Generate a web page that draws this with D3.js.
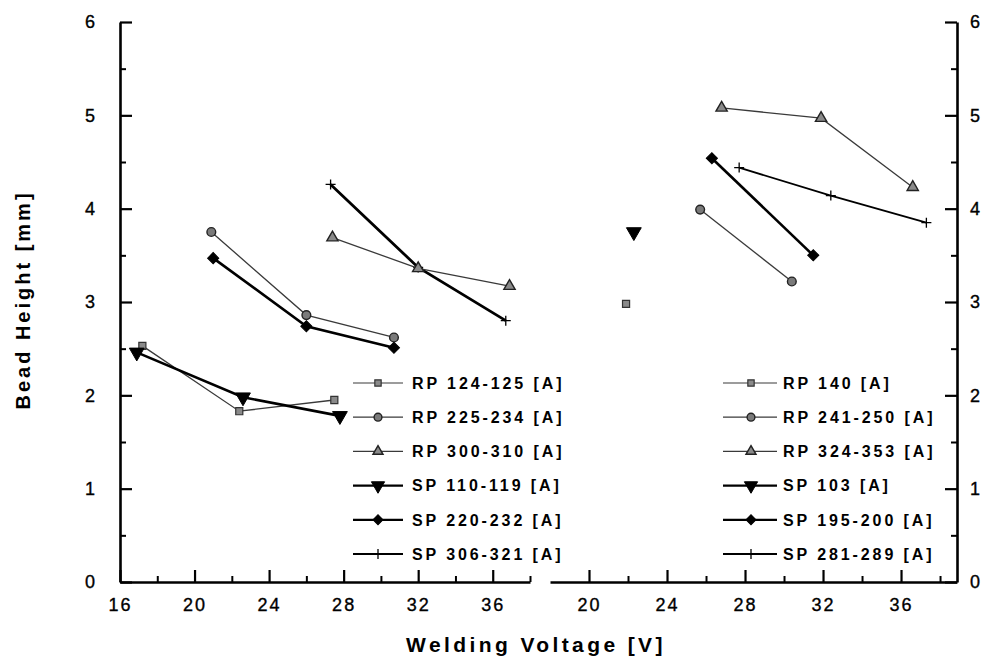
<!DOCTYPE html>
<html><head><meta charset="utf-8">
<script src="https://cdn.jsdelivr.net/npm/d3@7"></script>
<style>
body{margin:0;background:#fff;}
text{font-family:"Liberation Sans",Arial,sans-serif;fill:#000;}
</style></head>
<body><svg id="c" width="988" height="664"></svg>
<script>
// ---- data ----
const yTicks = [0,1,2,3,4,5,6];
const yMinor = [0.5,1.5,2.5,3.5,4.5,5.5];
const xTicksLeft = [16,20,24,28,32,36];
const xMinorLeft = [18,22,26,30,34,38];
const xTicksRight = [20,24,28,32,36];
const xMinorRight = [22,26,30,34,38];

// left panel series
const rp124x = [17.2, 22.4, 27.5], rp124y = [2.53, 1.83, 1.95];
const rp225x = [20.9, 26.0, 30.7], rp225y = [3.75, 2.86, 2.62];
const rp300x = [27.4, 32.0, 36.9], rp300y = [3.69, 3.36, 3.17];
const sp110x = [16.9, 22.6, 27.8], sp110y = [2.46, 1.98, 1.78];
const sp220x = [21.0, 26.0, 30.7], sp220y = [3.47, 2.74, 2.51];
const sp306x = [27.3, 32.0, 36.7], sp306y = [4.26, 3.37, 2.80];
// right panel series
const rp140x = [21.9], rp140y = [2.98];
const rp241x = [25.7, 30.4], rp241y = [3.99, 3.22];
const rp324x = [26.8, 31.9, 36.6], rp324y = [5.08, 4.97, 4.23];
const sp103x = [22.3], sp103y = [3.75];
const sp195x = [26.3, 31.5], sp195y = [4.54, 3.50];
const sp281x = [27.7, 32.4, 37.3], sp281y = [4.44, 4.14, 3.85];

const leftNames = ["RP 124-125 [A]","RP 225-234 [A]","RP 300-310 [A]","SP 110-119 [A]","SP 220-232 [A]","SP 306-321 [A]"];
const rightNames = ["RP 140 [A]","RP 241-250 [A]","RP 324-353 [A]","SP 103 [A]","SP 195-200 [A]","SP 281-289 [A]"];
const markerKinds = ["square","circle","triangle","down","diamond","plus"];

// ---- scales ----
const svg = d3.select("#c");
const y = d3.scaleLinear().domain([0,6]).range([582,22]);
const xL = d3.scaleLinear().domain([16,38]).range([120,530]);
const xR = d3.scaleLinear().domain([18,38.87]).range([550,957]);

function styleAxis(g, size){
  g.selectAll("path.domain").attr("stroke","#000").attr("stroke-width",2.6);
  g.selectAll(".tick line").attr("stroke","#000").attr("stroke-width",2.2);
  g.selectAll("text").style("font-family",'"Liberation Sans",Arial,sans-serif')
    .style("font-size",size+"px").style("letter-spacing","2px").attr("fill","#000")
    .attr("stroke","#000").attr("stroke-width",0.35);
}

// left y axis
const gyl = svg.append("g").attr("transform","translate(120,0)")
  .call(d3.axisLeft(y).tickValues(yTicks).tickFormat(d3.format("d")).tickSize(-12).tickSizeOuter(0).tickPadding(23));
styleAxis(gyl,18);
svg.append("g").attr("transform","translate(120,0)")
  .call(d3.axisLeft(y).tickValues(yMinor).tickFormat("").tickSize(-6).tickSizeOuter(0))
  .call(g=>{g.select(".domain").remove(); g.selectAll("line").attr("stroke","#000").attr("stroke-width",2);});

// right y axis
const gyr = svg.append("g").attr("transform","translate(957,0)")
  .call(d3.axisRight(y).tickValues(yTicks).tickFormat(d3.format("d")).tickSize(-12).tickSizeOuter(0).tickPadding(13));
styleAxis(gyr,18);
svg.append("g").attr("transform","translate(957,0)")
  .call(d3.axisRight(y).tickValues(yMinor).tickFormat("").tickSize(-6).tickSizeOuter(0))
  .call(g=>{g.select(".domain").remove(); g.selectAll("line").attr("stroke","#000").attr("stroke-width",2);});

// bottom axes
const gxl = svg.append("g").attr("transform","translate(0,582)")
  .call(d3.axisBottom(xL).tickValues(xTicksLeft).tickFormat(d3.format("d")).tickSize(-12).tickSizeOuter(0).tickPadding(16));
styleAxis(gxl,18);
svg.append("g").attr("transform","translate(0,582)")
  .call(d3.axisBottom(xL).tickValues(xMinorLeft).tickFormat("").tickSize(-6).tickSizeOuter(0))
  .call(g=>{g.select(".domain").remove(); g.selectAll("line").attr("stroke","#000").attr("stroke-width",2);});

const gxr = svg.append("g").attr("transform","translate(0,582)")
  .call(d3.axisBottom(xR).tickValues(xTicksRight).tickFormat(d3.format("d")).tickSize(-12).tickSizeOuter(0).tickPadding(16));
styleAxis(gxr,18);
svg.append("g").attr("transform","translate(0,582)")
  .call(d3.axisBottom(xR).tickValues(xMinorRight).tickFormat("").tickSize(-6).tickSizeOuter(0))
  .call(g=>{g.select(".domain").remove(); g.selectAll("line").attr("stroke","#000").attr("stroke-width",2);});

// axis titles
svg.append("text").attr("x",536).attr("y",652).attr("text-anchor","middle")
  .style("font-size","21px").style("font-weight","bold").style("letter-spacing","3.4px")
  .text("Welding Voltage [V]");
svg.append("text").attr("transform","translate(30,300) rotate(-90)").attr("text-anchor","middle")
  .style("font-size","20px").style("font-weight","bold").style("letter-spacing","3px")
  .text("Bead Height [mm]");

// ---- markers ----
function drawMarker(g, kind, cx, cy, s){
  s = s || 1;
  const t = `translate(${cx},${cy})`;
  if(kind==="square"){
    g.append("path").attr("transform",t).attr("d",d3.symbol(d3.symbolSquare,50*s)())
      .attr("fill","#8a8a8a").attr("stroke","#333").attr("stroke-width",1.2);
  } else if(kind==="circle"){
    g.append("path").attr("transform",t).attr("d",d3.symbol(d3.symbolCircle,60*s)())
      .attr("fill","#7a7a7a").attr("stroke","#222").attr("stroke-width",1.4);
  } else if(kind==="triangle"){
    g.append("path").attr("transform",t).attr("d",d3.symbol(d3.symbolTriangle,55*s)())
      .attr("fill","#8a8a8a").attr("stroke","#222").attr("stroke-width",1.4);
  } else if(kind==="down"){
    g.append("path").attr("transform",t+" rotate(180)").attr("d",d3.symbol(d3.symbolTriangle,95*s)())
      .attr("fill","#000").attr("stroke","#000").attr("stroke-width",1);
  } else if(kind==="diamond"){
    g.append("path").attr("transform",t+" rotate(45)").attr("d",d3.symbol(d3.symbolSquare,62*s)())
      .attr("fill","#000").attr("stroke","#000").attr("stroke-width",1);
  } else if(kind==="plus"){
    g.append("path").attr("transform",t).attr("d","M-5,0H5M0,-5V5")
      .attr("fill","none").attr("stroke","#000").attr("stroke-width",1.3);
  }
}

const lineStyle = {
  square:{w:1.3,c:"#3a3a3a"}, circle:{w:1.3,c:"#3a3a3a"}, triangle:{w:1.3,c:"#3a3a3a"},
  down:{w:2.6,c:"#000"}, diamond:{w:2.6,c:"#000"}, plus:{w:2.4,c:"#000"}
};

function drawSeries(xs, ys, xScale, kind, lw){
  const pts = xs.map((v,i)=>[xScale(v), y(ys[i])]);
  const g = svg.append("g");
  if(pts.length>1){
    g.append("path").attr("d",d3.line()(pts)).attr("fill","none")
      .attr("stroke",lineStyle[kind].c).attr("stroke-width",lw||lineStyle[kind].w);
  }
  pts.forEach(p=>drawMarker(g,kind,p[0],p[1]));
}

// left panel
drawSeries(rp124x, rp124y, xL, "square");
drawSeries(sp110x, sp110y, xL, "down");
drawSeries(rp225x, rp225y, xL, "circle");
drawSeries(sp220x, sp220y, xL, "diamond");
drawSeries(sp306x, sp306y, xL, "plus", 2.8);
drawSeries(rp300x, rp300y, xL, "triangle");
// right panel
drawSeries(rp140x, rp140y, xR, "square");
drawSeries(sp103x, sp103y, xR, "down");
drawSeries(rp241x, rp241y, xR, "circle");
drawSeries(sp195x, sp195y, xR, "diamond");
drawSeries(rp324x, rp324y, xR, "triangle");
drawSeries(sp281x, sp281y, xR, "plus", 1.8);

// ---- legends ----
function legend(names, x0, x1, mx, tx, lwLast){
  names.forEach((n,i)=>{
    const k = markerKinds[i];
    const yy = 383 + i*34.2;
    const g = svg.append("g");
    const w = (i===5 && lwLast) ? lwLast : (lineStyle[k].w>2 ? 2.2 : 1.2);
    g.append("line").attr("x1",x0).attr("x2",x1).attr("y1",yy).attr("y2",yy)
      .attr("stroke",lineStyle[k].c).attr("stroke-width",w);
    drawMarker(g,k,mx,yy,0.8);
    g.append("text").attr("x",tx).attr("y",yy).attr("dy","0.36em")
      .style("font-size","16px").style("font-weight","bold").style("letter-spacing","2.9px")
      .text(n);
  });
}
legend(leftNames, 353, 403, 378, 412, 1.8);
legend(rightNames, 723, 777, 751, 783, 1.8);
</script>
</body></html>
